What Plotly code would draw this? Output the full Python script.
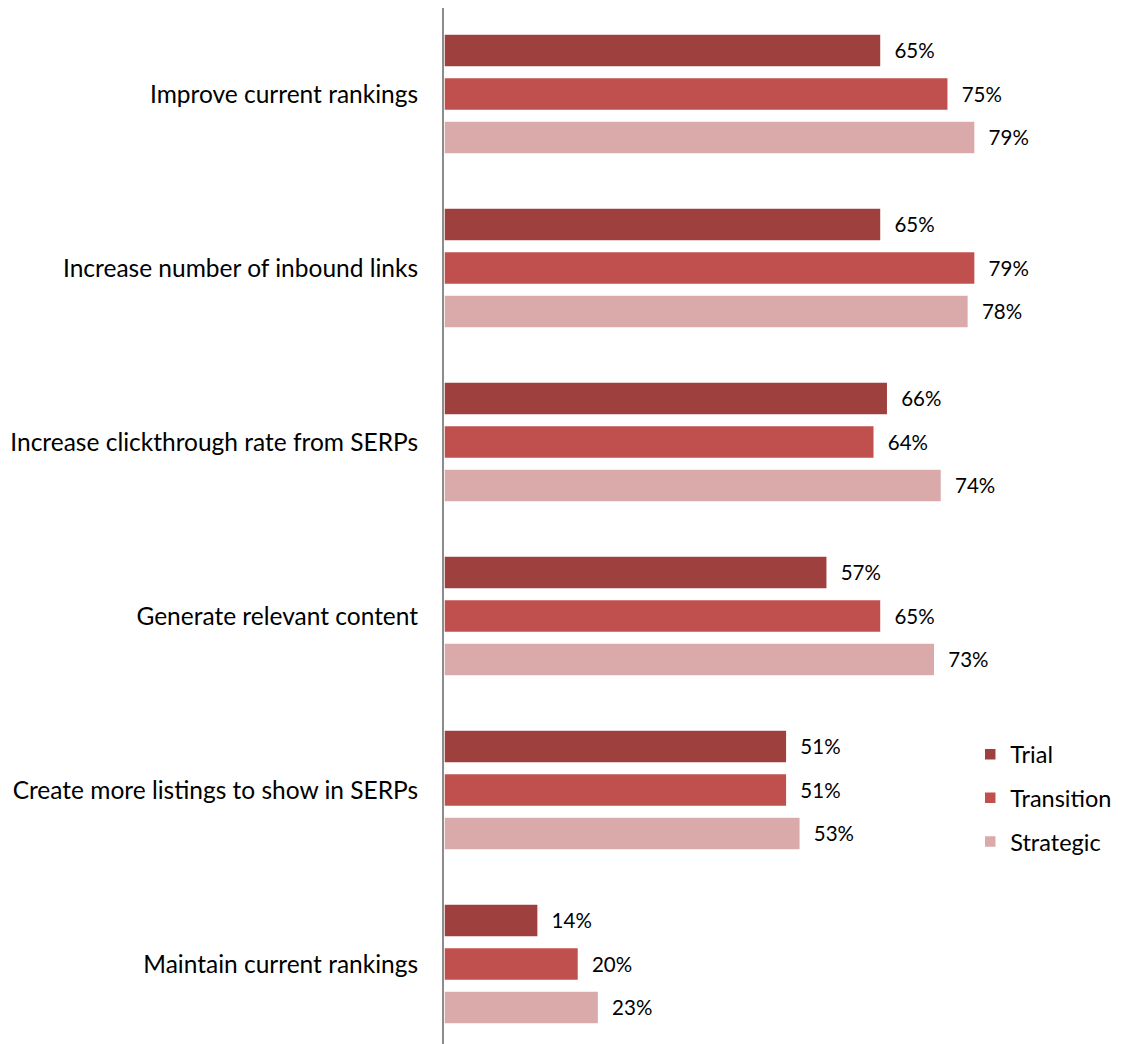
import plotly.graph_objects as go

categories = [
    "Improve current rankings",
    "Increase number of inbound links",
    "Increase clickthrough rate from SERPs",
    "Generate relevant content",
    "Create more listings to show in SERPs",
    "Maintain current rankings",
]
trial = [65, 65, 66, 57, 51, 14]
transition = [75, 79, 64, 65, 51, 20]
strategic = [79, 78, 74, 73, 53, 23]

series = [
    ("Trial", trial, "rgb(158,64,62)"),
    ("Transition", transition, "rgb(192,80,77)"),
    ("Strategic", strategic, "rgb(218,170,170)"),
]

FONT = "Lato, 'Open Sans', sans-serif"

fig = go.Figure()
for i, (name, vals, color) in enumerate(series):
    fig.add_trace(go.Bar(
        name=name,
        y=categories,
        x=vals,
        orientation="h",
        marker=dict(color=color, line=dict(color="white", width=1.5)),
        text=["\u00a0\u00a0" + f"{v}%" for v in vals],
        textposition="outside",
        textfont=dict(size=20.5, color="black", family=FONT),
        cliponaxis=False,
        legendgroup=name,
    ))

fig.update_layout(
    width=1123, height=1044,
    margin=dict(l=436, r=8, t=0, b=0, autoexpand=False),
    paper_bgcolor="white", plot_bgcolor="white",
    barmode="group",
    bargap=0.25,
    bargroupgap=0.24,
    font=dict(family=FONT, size=24, color="black"),
    showlegend=True,
    legend=dict(
        x=0.775, y=0.306, xanchor="left", yanchor="top",
        font=dict(size=23.5, family=FONT),
        tracegroupgap=10,
        itemwidth=30,
        bgcolor="rgba(0,0,0,0)",
    ),
    xaxis=dict(range=[0, 101], visible=False, showgrid=False, zeroline=False,
               automargin=False),
    yaxis=dict(
        range=[5.506, -0.494],
        showline=True, linecolor="#8c8c8c", linewidth=2,
        showgrid=False, zeroline=False, automargin=False,
        ticks="", ticklabelstandoff=19,
        tickfont=dict(size=24.5, family=FONT),
    ),
)

fig.write_html("out.html")
